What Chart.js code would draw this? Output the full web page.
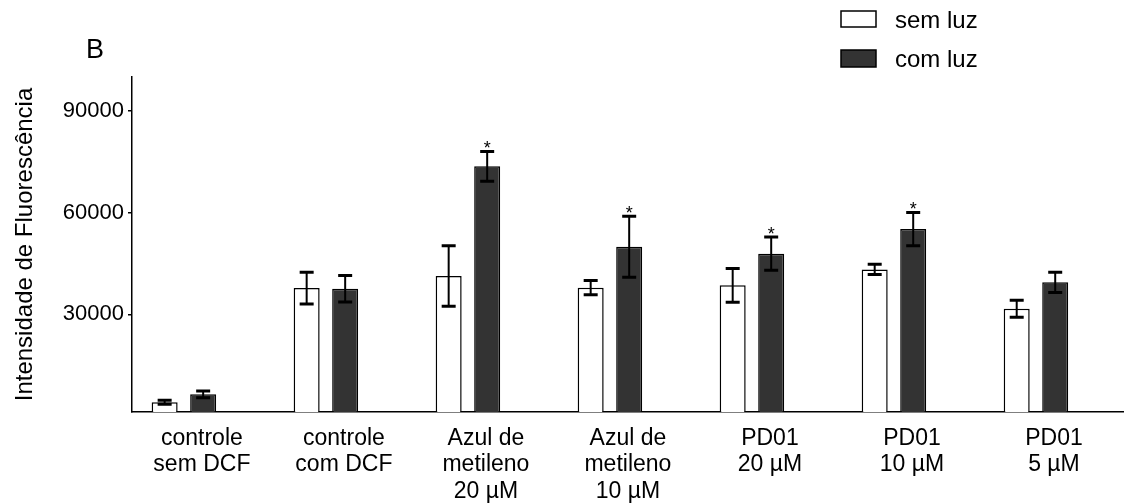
<!DOCTYPE html>
<html>
<head>
<meta charset="utf-8">
<script src="https://cdn.jsdelivr.net/npm/chart.js"></script>
<style>
  body { margin: 0; background: #fff; }
</style>
</head>
<body>
<canvas id="myChart" width="1124" height="504"></canvas>
<script>
// grupos do eixo x (uma linha por item)
const grupos = [
  ['controle', 'sem DCF'],
  ['controle', 'com DCF'],
  ['Azul de', 'metileno', '20 µM'],
  ['Azul de', 'metileno', '10 µM'],
  ['PD01', '20 µM'],
  ['PD01', '10 µM'],
  ['PD01', '5 µM']
];
const semLuz = [4100, 37750, 41300, 37850, 38550, 43250, 31650];
const semLuzErro = [600, 4700, 8900, 2100, 5000, 1500, 2500];
const comLuz = [6400, 37550, 73650, 49950, 47900, 55150, 39450];
const comLuzErro = [1000, 3900, 4400, 9000, 4900, 4900, 3000];
const signif = [false, false, true, true, true, true, false];
const yTicks = [30000, 60000, 90000];

const fonte = "'Liberation Sans', Arial, sans-serif";
Chart.defaults.font.family = fonte;
Chart.defaults.color = '#000';

const errorBars = {
  id: 'errorBars',
  afterDatasetsDraw(chart) {
    const c = chart.ctx;
    const y = chart.scales.y;
    const erros = [semLuzErro, comLuzErro];
    c.save();
    c.strokeStyle = '#000';
    chart.data.datasets.forEach((ds, d) => {
      chart.getDatasetMeta(d).data.forEach((bar, i) => {
        const v = ds.data[i].y;
        const top = y.getPixelForValue(v + erros[d][i]);
        const bot = y.getPixelForValue(v - erros[d][i]);
        c.lineWidth = 2;
        c.beginPath();
        c.moveTo(bar.x, top);
        c.lineTo(bar.x, bot);
        c.stroke();
        c.lineWidth = 3;
        c.beginPath();
        c.moveTo(bar.x - 7, top);
        c.lineTo(bar.x + 7, top);
        c.moveTo(bar.x - 7, bot);
        c.lineTo(bar.x + 7, bot);
        c.stroke();
        if (d === 1 && signif[i]) {
          c.fillStyle = '#000';
          c.font = '18px ' + fonte;
          c.textAlign = 'center';
          c.textBaseline = 'alphabetic';
          c.fillText('*', bar.x, top + 3);
        }
      });
    });
    c.restore();
  },
  afterDraw(chart) {
    const c = chart.ctx;
    c.save();
    c.fillStyle = '#000';
    c.font = '27px ' + fonte;
    c.textAlign = 'left';
    c.textBaseline = 'alphabetic';
    c.fillText('B', 86, 58);
    // legenda
    const ds = chart.data.datasets;
    c.lineWidth = 1.5;
    c.strokeStyle = '#000';
    c.font = '24px ' + fonte;
    c.textBaseline = 'middle';
    [[11, 16], [50, 17]].forEach((p, k) => {
      c.fillStyle = ds[k].backgroundColor;
      c.fillRect(841, p[0], 35, p[1]);
      c.strokeRect(841, p[0], 35, p[1]);
      c.fillStyle = '#000';
      c.fillText(ds[k].label, 895, p[0] + p[1] / 2 + 2);
    });
    c.restore();
  }
};

new Chart(document.getElementById('myChart'), {
  type: 'bar',
  data: {
    datasets: [
      {
        label: 'sem luz',
        data: semLuz.map((v, i) => ({ x: i, y: v })),
        backgroundColor: '#ffffff',
        borderColor: '#000',
        borderWidth: 1.5
      },
      {
        label: 'com luz',
        data: comLuz.map((v, i) => ({ x: i, y: v })),
        backgroundColor: '#333333',
        borderColor: '#000',
        borderWidth: 1.5
      }
    ]
  },
  options: {
    responsive: false,
    animation: false,
    devicePixelRatio: 1,
    layout: { padding: { top: 77, right: 0, left: 0, bottom: 0 } },
    datasets: { bar: { categoryPercentage: 0.5423, barPercentage: 0.675 } },
    plugins: {
      legend: { display: false },
      tooltip: { enabled: false }
    },
    scales: {
      x: {
        type: 'linear',
        offset: false,
        min: -0.3655,
        max: 6.62,
        grid: { display: false },
        border: { display: true, color: '#000', width: 1.5 },
        ticks: {
          autoSkip: false,
          maxRotation: 0,
          padding: 5,
          labelOffset: 18,
          font: { size: 23, lineHeight: '26.5px' },
          callback: (v) => grupos[v]
        },
        afterBuildTicks: (s) => { s.ticks = grupos.map((g, i) => ({ value: i })); },
        afterFit: (s) => { s.height = 92; }
      },
      y: {
        min: 1200,
        max: 100000,
        grid: { drawOnChartArea: false, drawTicks: true, tickLength: 4, color: '#000', lineWidth: 1.5 },
        border: { display: true, color: '#000', width: 1.5 },
        ticks: { padding: 4, font: { size: 22 }, callback: (v) => String(v) },
        afterBuildTicks: (s) => { s.ticks = yTicks.map(v => ({ value: v })); },
        title: {
          display: true,
          text: 'Intensidade de Fluorescência',
          font: { size: 24 },
          padding: { top: 11, bottom: 0 }
        },
        afterFit: (s) => { s.width = 132; }
      }
    }
  },
  plugins: [errorBars]
});
</script>
</body>
</html>
